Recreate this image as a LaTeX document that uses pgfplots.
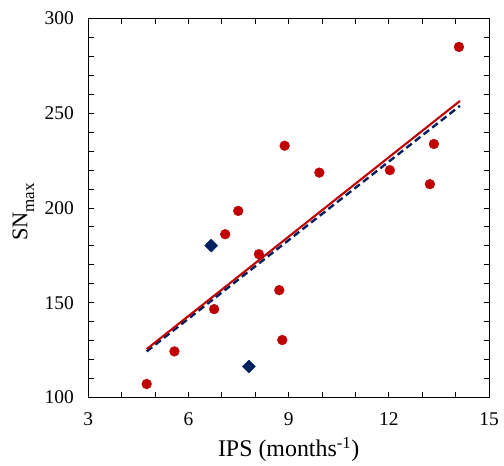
\documentclass[border=0pt]{standalone}
\usepackage{fontspec}
\setmainfont{Liberation Serif}
\usepackage{pgfplots}
\pgfplotsset{compat=1.18}
\definecolor{myred}{HTML}{C00000}
\definecolor{myblue}{HTML}{002060}
\begin{document}
\begin{tikzpicture}
\begin{axis}[
  name=ax,
  scale only axis,
  width=401bp, height=379.4bp,
  xmin=3, xmax=15, ymin=100, ymax=300,
  xtick={3,6,9,12,15},
  ytick={100,150,200,250,300},
  minor x tick num=2,
  minor y tick num=4,
  tick align=inside,
  major tick length=5.5bp,
  minor tick length=5.5bp,
  axis line style={line width=0.9bp},
  every tick/.style={line width=0.7bp, black},
  /pgf/number format/assume math mode=true,
  ticklabel style={font=\fontsize{19.5}{21}\selectfont},
  yticklabel style={xshift=-11bp},
  xticklabel style={yshift=-12bp},
  xlabel={IPS (months\textsuperscript{-1})},
  ylabel={\fontsize{22.5}{24}\selectfont SN\raisebox{-0.3em}{\fontsize{17}{18}\selectfont max}},
  label style={font=\fontsize{24}{26}\selectfont},
  xlabel style={at={(axis description cs:0.5,-0.157)}, anchor=base},
  ylabel style={at={(axis description cs:-0.162,0.489)}, anchor=center},
  clip=false,
]
\addplot[only marks, mark=*, mark size=4.9bp, color=myred, mark options={fill=myred, draw=myred}] coordinates {
(14.10,284.9) (8.88,232.8) (9.92,218.6) (12.03,219.9) (13.35,233.7) (13.23,212.5)
(7.49,198.4) (7.10,186.1) (8.11,175.6) (8.72,156.6) (6.77,146.6) (8.81,130.3)
(5.58,124.3) (4.75,107.1)
};
\addplot[only marks, mark=square*, mark size=4.6bp, color=myblue, mark options={fill=myblue, draw=myblue, rotate=45}] coordinates {
(6.68,180.1) (7.81,116.3)
};
\addplot[myblue, line width=2.4bp, dash pattern=on 7bp off 4bp] coordinates {(4.75,124.3) (14.13,253.8)};
\addplot[myred, line width=2.1bp] coordinates {(4.75,125.5) (14.13,256.4)};
\end{axis}
\path[use as bounding box] ([xshift=-88.3bp,yshift=-67.3bp]ax.south west) rectangle ([xshift=15bp,yshift=18.3bp]ax.north east);
\end{tikzpicture}
\end{document}
